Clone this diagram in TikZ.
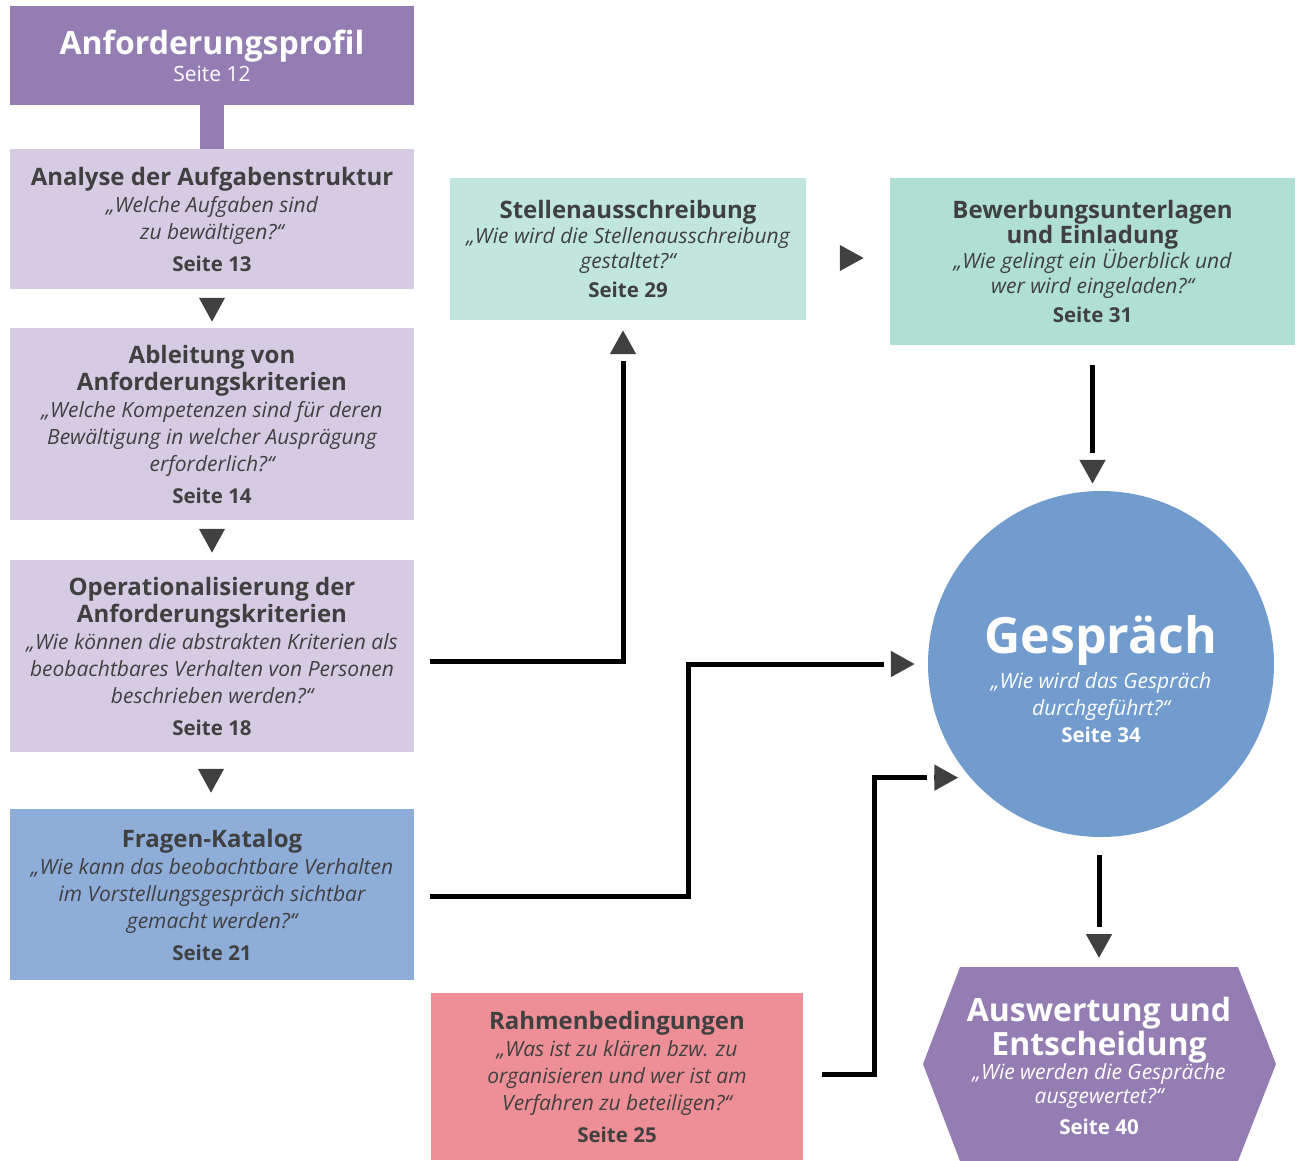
\documentclass[tikz,border=0pt]{standalone}
\usepackage{fontspec}
\setmainfont{Open Sans}
\usetikzlibrary{arrows.meta,positioning,shapes.geometric}

\definecolor{profc}{HTML}{947DB2}
\definecolor{lav}{HTML}{D5CCE3}
\definecolor{fkc}{HTML}{8EAED9}
\definecolor{stc}{HTML}{C0E6DE}
\definecolor{bwc}{HTML}{B0DFD4}
\definecolor{rbc}{HTML}{EE8F97}
\definecolor{gsc}{HTML}{729BCE}
\definecolor{txt}{HTML}{404040}
\definecolor{tipc}{HTML}{404040}

\newcommand{\ttl}{\fontsize{24}{27}\selectfont\bfseries}
\newcommand{\qst}{\fontsize{21}{27}\selectfont\itshape}
\newcommand{\pg}{\fontsize{20.5}{27}\selectfont\bfseries}

\tikzset{
  box/.style={rectangle, inner sep=0pt, align=center, text=txt, font=\fontsize{20}{27}\selectfont},
  gapTip/.style={line width=5pt, -{Rectangle[length=7pt,width=9pt,color=white] Triangle[length=24pt,width=25pt,color=tipc]}},
  bareTip/.style={line width=4pt, -{Triangle[length=24pt,width=25pt,color=tipc]}}
}

\begin{document}
\begin{tikzpicture}[x=1pt,y=-1pt]
\useasboundingbox (0,0) rectangle (1297,1160);
% left column
\node[box, fill=profc, text=white, minimum width=404pt, minimum height=99pt] (prof) at (212,55.5)
  {\fontsize{32}{34}\selectfont\bfseries Anforderungsprofil\\ \fontsize{21}{27}\selectfont Seite 12};
\node[box, fill=lav, minimum width=404pt, minimum height=140pt] (ana) at (212,219)
  {\ttl Analyse der Aufgabenstruktur\\ \qst „Welche Aufgaben sind\\ \qst zu bewältigen?“\\[5pt] \pg Seite 13};
\node[box, fill=lav, minimum width=404pt, minimum height=192pt] (abl) at (212,424)
  {\ttl Ableitung von\\ \ttl Anforderungskriterien\\ \qst „Welche Kompetenzen sind für deren\\ \qst Bewältigung in welcher Ausprägung\\ \qst erforderlich?“\\[5pt] \pg Seite 14};
\node[box, fill=lav, minimum width=404pt, minimum height=192pt] (op) at (212,656)
  {\ttl Operationalisierung der\\ \ttl Anforderungskriterien\\ \qst „Wie können die abstrakten Kriterien als\\ \qst beobachtbares Verhalten von Personen\\ \qst beschrieben werden?“\\[5pt] \pg Seite 18};
\node[box, fill=fkc, minimum width=404pt, minimum height=171pt] (fk) at (212,894.5)
  {\ttl Fragen-Katalog\\ \qst „Wie kann das beobachtbare Verhalten\\ \qst im Vorstellungsgespräch sichtbar\\ \qst gemacht werden?“\\[5pt] \pg Seite 21};
% middle and right
\node[box, fill=stc, minimum width=356pt, minimum height=142pt, font=\fontsize{19}{25}\selectfont] (st) at (628,249)
  {\ttl Stellenausschreibung\\ \qst „Wie wird die Stellenausschreibung\\ \qst gestaltet?“\\[4pt] \pg Seite 29};
\node[box, fill=bwc, minimum width=405pt, minimum height=167pt, font=\fontsize{19}{25}\selectfont] (bw) at (1092.5,261.5)
  {\ttl Bewerbungsunterlagen\\ \ttl und Einladung\\ \qst „Wie gelingt ein Überblick und\\ \qst wer wird eingeladen?“\\[4pt] \pg Seite 31};
\node[box, fill=rbc, minimum width=372pt, minimum height=167pt] (rb) at (617,1076.5)
  {\ttl Rahmenbedingungen\\ \qst „Was ist zu klären bzw. zu\\ \qst organisieren und wer ist am\\ \qst Verfahren zu beteiligen?“\\[5pt] \pg Seite 25};
\node[circle, fill=gsc, minimum size=346pt, inner sep=0pt] (gs) at (1101,664) {};
\node[box, text=white] (gstxt) at ([yshift=-15pt]gs.center)
  {\fontsize{50}{54}\selectfont\bfseries Gespräch\\[6pt] \qst „Wie wird das Gespräch\\ \qst durchgeführt?“\\ \pg Seite 34};
% hexagon
\fill[profc] (960,967) -- (1238,967) -- (1276,1064) -- (1238,1161)
  -- (960,1161) -- (923,1064) -- cycle;
\node[box, text=white, font=\fontsize{20}{24}\selectfont] (ausw) at (1099,1066)
  {\fontsize{32}{32}\selectfont\bfseries Auswertung und\\[1pt] \fontsize{32}{32}\selectfont\bfseries Entscheidung\\ \qst „Wie werden die Gespräche\\ \qst ausgewertet?“\\[7pt] \pg Seite 40};
\coordinate (ausw top) at (1099,967);

% connectors
\draw[line width=24pt, profc] (prof.south) -- (ana.north);
\draw[bareTip, shorten <=9pt, shorten >=6pt] (ana.south) -- (abl.north);
\draw[bareTip, shorten <=9pt, shorten >=7pt] (abl.south) -- (op.north);
\draw[bareTip, shorten <=17pt, shorten >=16pt] ([xshift=-1pt]op.south) -- ([xshift=-1pt]fk.north);
\draw[bareTip, shorten <=34pt, shorten >=26pt] ([yshift=-9pt]st.east) -- ([yshift=-9pt]st.east -| bw.west);
\draw[gapTip, shorten <=16pt, shorten >=10pt] ([yshift=-5pt]op.east) -| ([xshift=-5pt]st.south);
\draw[gapTip, shorten <=16pt, shorten >=13pt] ([yshift=-2pt]fk.east) -- ++(274,0) |- (gs.west);
\draw[gapTip, shorten <=19pt, shorten >=12pt] ([yshift=2pt]rb.east) -- ++(71,0) |- (gs.221.7);
\draw[gapTip, shorten <=20pt, shorten >=7pt] (bw.south) -- (bw.south |- gs.north);
\draw[gapTip, shorten <=18pt, shorten >=9pt] ([xshift=-2pt]gs.south) -- (ausw top);
\end{tikzpicture}
\end{document}
